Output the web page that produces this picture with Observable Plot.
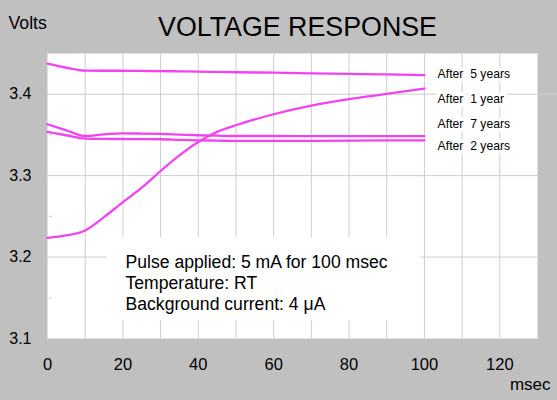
<!DOCTYPE html>
<html>
<head>
<meta charset="utf-8">
<script src="https://cdn.jsdelivr.net/npm/d3@7"></script>
<script src="https://cdn.jsdelivr.net/npm/@observablehq/plot@0.6"></script>
<style>
  html, body { margin: 0; padding: 0; background: #c0c0c0; }
  #chart svg { display: block; }
</style>
</head>
<body>
<div id="chart"></div>
<script>
// ---- data ----
const msec = [0, 5, 10, 15, 20, 25, 30, 35, 40, 45, 50, 60, 70, 80, 90, 100];
const after5 = [3.4375, 3.4325, 3.429, 3.4288, 3.4288, 3.4286, 3.4284, 3.4281, 3.4278, 3.4274, 3.427, 3.4264, 3.4257, 3.425, 3.4243, 3.4235];
const after1 = [3.2237, 3.2265, 3.2327, 3.249, 3.2675, 3.2852, 3.3057, 3.325, 3.3414, 3.3537, 3.3619, 3.3754, 3.386, 3.394, 3.4005, 3.407];
const after7 = [3.3631, 3.3557, 3.3487, 3.3508, 3.352, 3.3517, 3.3512, 3.3504, 3.3496, 3.3491, 3.3487, 3.3487, 3.3486, 3.3485, 3.3485, 3.3485];
const after2 = [3.3537, 3.3496, 3.3455, 3.3451, 3.345, 3.3449, 3.3447, 3.344, 3.3434, 3.343, 3.3426, 3.3426, 3.3428, 3.343, 3.3432, 3.3434];
const seriesNames = ["After\u00a0 5 years", "After\u00a0 1 year", "After\u00a0 7 years", "After\u00a0 2 years"];
const seriesValues = [after5, after1, after7, after2];
const labelVolts = [3.4242, 3.3938, 3.3627, 3.336];
const xTicks = [0, 20, 40, 60, 80, 100, 120];
const yTicks = [3.1, 3.2, 3.3, 3.4];
const xGrid = [10, 20, 30, 40, 50, 60, 70, 80, 90, 100, 110, 120];
const yGrid = [3.2, 3.3, 3.4];
const yMinor = [3.15, 3.25, 3.35];
const title = "VOLTAGE RESPONSE";
const yLabel = "Volts";
const xLabel = "msec";
const note = "Pulse applied: 5 mA for 100 msec\nTemperature: RT\nBackground current: 4 \u03bcA";

// ---- build tables ----
const rows = [];
seriesNames.forEach((name, i) => {
  msec.forEach((t, j) => rows.push({series: name, t, v: seriesValues[i][j]}));
});
const labels = seriesNames.map((name, i) => ({name, v: labelVolts[i]}));

const MAG = "#f243f2";
const GRID = "#cdcdcd";
const FONT = "'Liberation Sans', Arial, sans-serif";

const chart = Plot.plot({
  width: 557,
  height: 400,
  marginLeft: 47,
  marginRight: 20,
  marginTop: 53,
  marginBottom: 62,
  style: {background: "#c0c0c0", fontFamily: FONT, fontSize: "16px", color: "black"},
  x: {domain: [0, 130]},
  y: {domain: [3.1, 3.45]},
  marks: [
    Plot.frame({fill: "white", stroke: "none"}),
    Plot.ruleX(xGrid, {stroke: GRID, strokeWidth: 1, strokeOpacity: 1}),
    Plot.ruleY(yGrid, {stroke: GRID, strokeWidth: 1, strokeOpacity: 1}),
    Plot.ruleY([3.4], {x1: 130, x2: 135.3, stroke: "#d0d0d0", strokeWidth: 1}),
    Plot.ruleY(yMinor, {x1: 0.5, x2: 1.3, stroke: GRID, strokeWidth: 1}),
    // annotation background box
    Plot.rect([0], {x1: 15.9, x2: 99, y1: 3.1221, y2: 3.224, fill: "white"}),
    Plot.line(rows, {x: "t", y: "v", z: "series", stroke: MAG, strokeWidth: 2.3, curve: "monotone-x"}),
    Plot.text(labels, {x: 103.5, y: "v", text: "name", textAnchor: "start", fontSize: 12.2,
      fill: "black", stroke: "white", strokeWidth: 7, paintOrder: "stroke"}),
    Plot.text([note], {x: 20.7, y: 3.2048, textAnchor: "start", lineAnchor: "top",
      fontSize: 17.6, lineHeight: 1.2, fill: "black"}),
    Plot.axisX({ticks: xTicks, tickSize: 0, tickPadding: 20, label: null, fontSize: 16.5}),
    Plot.axisY({ticks: yTicks, tickSize: 0, tickPadding: 16, label: null, fontSize: 16,
      tickFormat: d3.format(".1f")}),
    Plot.text([title], {frameAnchor: "top", lineAnchor: "middle", dx: 5, dy: -26, fontSize: 26.8, fill: "black"}),
    Plot.text([yLabel], {frameAnchor: "top-left", lineAnchor: "middle", textAnchor: "start", dx: -39, dy: -29.8, fontSize: 17.7, fill: "black"}),
    Plot.text([xLabel], {frameAnchor: "bottom-right", lineAnchor: "middle", textAnchor: "end", dx: 13, dy: 46, fontSize: 17, fill: "black"})
  ]
});
document.getElementById("chart").appendChild(chart);
</script>
</body>
</html>
